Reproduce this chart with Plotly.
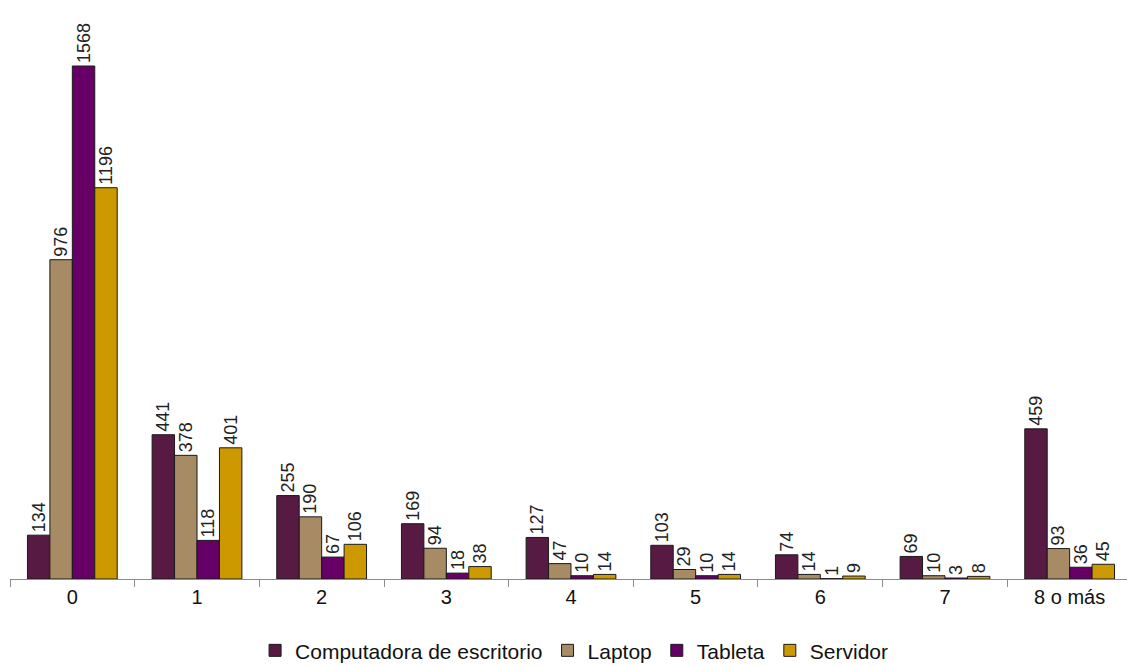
import plotly.graph_objects as go

categories = ["0", "1", "2", "3", "4", "5", "6", "7", "8 o más"]
desktop = [134, 441, 255, 169, 127, 103, 74, 69, 459]
laptop = [976, 378, 190, 94, 47, 29, 14, 10, 93]
tableta = [1568, 118, 67, 18, 10, 10, 1, 3, 36]
servidor = [1196, 401, 106, 38, 14, 14, 9, 8, 45]

series = [
    ("Computadora de escritorio", desktop, "#561A43"),
    ("Laptop", laptop, "#A78B64"),
    ("Tableta", tableta, "#660066"),
    ("Servidor", servidor, "#CC9900"),
]

FONT = "Liberation Sans, Arial, sans-serif"

fig = go.Figure()
for name, vals, color in series:
    fig.add_trace(go.Bar(
        name=name,
        x=categories,
        y=vals,
        marker=dict(color=color, line=dict(color="#1a1a1a", width=1)),
        text=[str(v) for v in vals],
        textposition="outside",
        textangle=-90,
        textfont=dict(family=FONT, size=18, color="#222222"),
        cliponaxis=False,
        constraintext="none",
    ))

fig.update_layout(
    width=1127,
    height=666,
    barmode="group",
    bargap=0.28,
    bargroupgap=0,
    plot_bgcolor="white",
    paper_bgcolor="white",
    margin=dict(l=10, r=0, t=40, b=87, autoexpand=False),
    font=dict(family=FONT, color="#111111"),
    showlegend=True,
    legend=dict(
        orientation="h",
        x=0.505,
        xanchor="center",
        y=-0.095,
        yanchor="top",
        font=dict(family=FONT, size=21, color="#111111"),
        itemwidth=30,
        tracegroupgap=0,
    ),
    xaxis=dict(
        type="category",
        range=[-0.5, 8.46],
        automargin=False,
        showline=True,
        linecolor="#8c8c8c",
        linewidth=1,
        ticks="outside",
        tickson="boundaries",
        ticklen=7,
        tickcolor="#8c8c8c",
        tickfont=dict(family=FONT, size=20, color="#111111"),
        showgrid=False,
        zeroline=False,
    ),
    yaxis=dict(
        range=[0, 1647.5],
        visible=False,
        automargin=False,
        showgrid=False,
        zeroline=False,
    ),
)

fig.write_html(
    "out.html",
    config={"displayModeBar": False},
    post_script="document.body.style.margin='0';document.body.style.overflow='hidden';",
)
